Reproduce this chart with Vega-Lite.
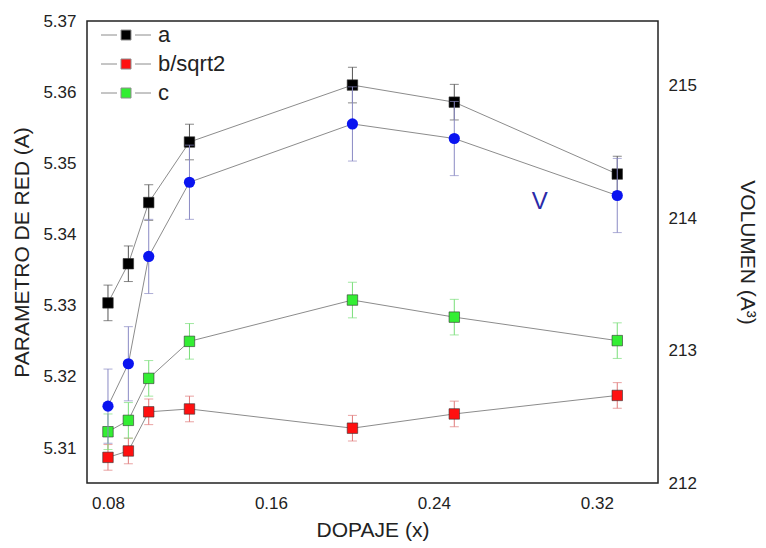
{
  "$schema": "https://vega.github.io/schema/vega-lite/v6.json",
  "width": 571,
  "height": 462,
  "autosize": {"type": "none"},
  "padding": {"left": 87, "top": 21, "right": 108, "bottom": 65},
  "background": "white",
  "config": {
    "view": {"stroke": "#222", "strokeWidth": 1.5},
    "font": "Liberation Sans",
    "axis": {
      "domain": false,
      "grid": false,
      "labelFont": "Liberation Sans",
      "labelFontSize": 17,
      "labelColor": "#222",
      "titleFont": "Liberation Sans",
      "titleFontSize": 21,
      "titleFontWeight": "normal",
      "titleColor": "#222",
      "labelFlush": false
    }
  },
  "datasets": {
    "lat": [
      {"x": 0.08, "series": "a", "value": 5.3304, "err": 0.0025},
      {"x": 0.09, "series": "a", "value": 5.3359, "err": 0.0025},
      {"x": 0.10, "series": "a", "value": 5.3445, "err": 0.0025},
      {"x": 0.12, "series": "a", "value": 5.3530, "err": 0.0025},
      {"x": 0.20, "series": "a", "value": 5.3610, "err": 0.0025},
      {"x": 0.25, "series": "a", "value": 5.3586, "err": 0.0025},
      {"x": 0.33, "series": "a", "value": 5.3485, "err": 0.0025},
      {"x": 0.08, "series": "b/sqrt2", "value": 5.3087, "err": 0.0018},
      {"x": 0.09, "series": "b/sqrt2", "value": 5.3096, "err": 0.0018},
      {"x": 0.10, "series": "b/sqrt2", "value": 5.3151, "err": 0.0018},
      {"x": 0.12, "series": "b/sqrt2", "value": 5.3155, "err": 0.0018},
      {"x": 0.20, "series": "b/sqrt2", "value": 5.3128, "err": 0.0018},
      {"x": 0.25, "series": "b/sqrt2", "value": 5.3148, "err": 0.0018},
      {"x": 0.33, "series": "b/sqrt2", "value": 5.3174, "err": 0.0018},
      {"x": 0.08, "series": "c", "value": 5.3123, "err": 0.0025},
      {"x": 0.09, "series": "c", "value": 5.3139, "err": 0.0025},
      {"x": 0.10, "series": "c", "value": 5.3198, "err": 0.0025},
      {"x": 0.12, "series": "c", "value": 5.3250, "err": 0.0025},
      {"x": 0.20, "series": "c", "value": 5.3308, "err": 0.0025},
      {"x": 0.25, "series": "c", "value": 5.3284, "err": 0.0025},
      {"x": 0.33, "series": "c", "value": 5.3251, "err": 0.0025}
    ],
    "vol": [
      {"x": 0.08, "V": 212.58, "err": 0.28},
      {"x": 0.09, "V": 212.90, "err": 0.28},
      {"x": 0.10, "V": 213.71, "err": 0.28},
      {"x": 0.12, "V": 214.27, "err": 0.28},
      {"x": 0.20, "V": 214.71, "err": 0.28},
      {"x": 0.25, "V": 214.60, "err": 0.28},
      {"x": 0.33, "V": 214.17, "err": 0.28}
    ],
    "note": [
      {"x": 0.292, "V": 214.12, "label": "V"}
    ],
    "xMajor": [{"t": 0.08}, {"t": 0.16}, {"t": 0.24}, {"t": 0.32}],
    "xMinor": [{"t": 0.096}, {"t": 0.112}, {"t": 0.128}, {"t": 0.144}, {"t": 0.176}, {"t": 0.192}, {"t": 0.208}, {"t": 0.224}, {"t": 0.256}, {"t": 0.272}, {"t": 0.288}, {"t": 0.304}, {"t": 0.336}],
    "yMajor": [{"t": 5.31}, {"t": 5.32}, {"t": 5.33}, {"t": 5.34}, {"t": 5.35}, {"t": 5.36}],
    "yMinor": [{"t": 5.306}, {"t": 5.308}, {"t": 5.312}, {"t": 5.314}, {"t": 5.316}, {"t": 5.318}, {"t": 5.322}, {"t": 5.324}, {"t": 5.326}, {"t": 5.328}, {"t": 5.332}, {"t": 5.334}, {"t": 5.336}, {"t": 5.338}, {"t": 5.342}, {"t": 5.344}, {"t": 5.346}, {"t": 5.348}, {"t": 5.352}, {"t": 5.354}, {"t": 5.356}, {"t": 5.358}, {"t": 5.362}, {"t": 5.364}, {"t": 5.366}, {"t": 5.368}],
    "vMajor": [{"t": 213}, {"t": 214}, {"t": 215}],
    "vMinor": [{"t": 212.5}, {"t": 213.5}, {"t": 214.5}]
  },
  "layer": [
    {
      "encoding": {
        "x": {
          "field": "x",
          "type": "quantitative",
          "scale": {"domain": [0.0697, 0.35], "nice": false, "zero": false},
          "axis": {
            "title": "DOPAJE (x)",
            "orient": "bottom",
            "values": [0.08, 0.16, 0.24, 0.32],
            "format": ".2f",
            "ticks": false,
            "labelPadding": 12,
            "titlePadding": 8
          }
        },
        "y": {
          "field": "value",
          "type": "quantitative",
          "scale": {"domain": [5.3051, 5.37], "nice": false, "zero": false},
          "axis": {
            "title": "PARAMETRO DE RED (A)",
            "orient": "left",
            "values": [5.31, 5.32, 5.33, 5.34, 5.35, 5.36, 5.37],
            "format": ".2f",
            "ticks": false,
            "labelPadding": 11,
            "titlePadding": 10
          }
        }
      },
      "layer": [
        {
          "data": {"name": "xMajor"},
          "mark": {"type": "rule", "color": "#222", "strokeWidth": 1.4},
          "encoding": {"x": {"field": "t", "type": "quantitative"}, "y": {"datum": 5.3051, "type": "quantitative"}, "y2": {"datum": 5.3061}}
        },
        {
          "data": {"name": "xMinor"},
          "mark": {"type": "rule", "color": "#222", "strokeWidth": 1.4},
          "encoding": {"x": {"field": "t", "type": "quantitative"}, "y": {"datum": 5.3051, "type": "quantitative"}, "y2": {"datum": 5.30566}}
        },
        {
          "data": {"name": "yMajor"},
          "mark": {"type": "rule", "color": "#222", "strokeWidth": 1.4},
          "encoding": {"y": {"field": "t", "type": "quantitative"}, "x": {"datum": 0.0697, "type": "quantitative"}, "x2": {"datum": 0.0731}}
        },
        {
          "data": {"name": "yMinor"},
          "mark": {"type": "rule", "color": "#222", "strokeWidth": 1.4},
          "encoding": {"y": {"field": "t", "type": "quantitative"}, "x": {"datum": 0.0697, "type": "quantitative"}, "x2": {"datum": 0.0717}}
        },
        {
          "data": {"name": "lat"},
          "mark": {"type": "line", "color": "#8c8c8c", "strokeWidth": 1},
          "encoding": {"detail": {"field": "series"}}
        },
        {
          "data": {"name": "lat"},
          "transform": [{"filter": "datum.series == 'a'"}],
          "mark": {"type": "errorbar", "ticks": {"size": 9}, "color": "#555555", "thickness": 1},
          "encoding": {"yError": {"field": "err"}}
        },
        {
          "data": {"name": "lat"},
          "transform": [{"filter": "datum.series == 'b/sqrt2'"}],
          "mark": {"type": "errorbar", "ticks": {"size": 9}, "color": "#e07a7a", "thickness": 1},
          "encoding": {"yError": {"field": "err"}}
        },
        {
          "data": {"name": "lat"},
          "transform": [{"filter": "datum.series == 'c'"}],
          "mark": {"type": "errorbar", "ticks": {"size": 9}, "color": "#7ade7a", "thickness": 1},
          "encoding": {"yError": {"field": "err"}}
        },
        {
          "data": {"name": "lat"},
          "mark": {"type": "point", "shape": "square", "filled": true, "size": 110, "opacity": 1, "stroke": "#333", "strokeWidth": 0.6},
          "encoding": {
            "color": {
              "field": "series",
              "type": "nominal",
              "scale": {"domain": ["a", "b/sqrt2", "c"], "range": ["#000000", "#ff1010", "#33ee33"]},
              "legend": {
                "title": null,
                "orient": "none",
                "legendX": 28,
                "legendY": 3,
                "padding": 0,
                "symbolType": "M-2.5,0H-0.9M0.9,0H2.5M-0.5,-0.5H0.5V0.5H-0.5Z",
                "symbolSize": 400,
                "symbolStrokeColor": "#8c8c8c",
                "symbolStrokeWidth": 1,
                "symbolOpacity": 1,
                "labelFontSize": 22,
                "labelFont": "Liberation Sans",
                "labelColor": "#222",
                "labelOffset": 21,
                "rowPadding": 7
              }
            }
          }
        }
      ]
    },
    {
      "encoding": {
        "x": {"field": "x", "type": "quantitative", "axis": null},
        "y": {
          "field": "V",
          "type": "quantitative",
          "scale": {"domain": [212, 215.487], "nice": false, "zero": false},
          "axis": {
            "title": "VOLUMEN (A³)",
            "orient": "right",
            "values": [212, 213, 214, 215],
            "format": "d",
            "ticks": false,
            "labelPadding": 10,
            "titlePadding": 40
          }
        }
      },
      "layer": [
        {
          "data": {"name": "vMajor"},
          "mark": {"type": "rule", "color": "#222", "strokeWidth": 1.4},
          "encoding": {"y": {"field": "t", "type": "quantitative"}, "x": {"datum": 0.35, "type": "quantitative"}, "x2": {"datum": 0.3466}}
        },
        {
          "data": {"name": "vMinor"},
          "mark": {"type": "rule", "color": "#222", "strokeWidth": 1.4},
          "encoding": {"y": {"field": "t", "type": "quantitative"}, "x": {"datum": 0.35, "type": "quantitative"}, "x2": {"datum": 0.348}}
        },
        {
          "data": {"name": "vol"},
          "mark": {"type": "line", "color": "#8c8c8c", "strokeWidth": 1}
        },
        {
          "data": {"name": "vol"},
          "mark": {"type": "errorbar", "ticks": {"size": 9}, "color": "#8a8ac4", "thickness": 1},
          "encoding": {"yError": {"field": "err"}}
        },
        {
          "data": {"name": "vol"},
          "mark": {"type": "point", "shape": "circle", "filled": true, "size": 125, "color": "#0a14f0", "opacity": 1}
        },
        {
          "data": {"name": "note"},
          "mark": {"type": "text", "fontSize": 24, "color": "#2a2aa8", "font": "Liberation Sans"},
          "encoding": {"text": {"field": "label"}}
        }
      ]
    }
  ],
  "resolve": {"scale": {"y": "independent"}, "axis": {"x": "independent", "y": "independent"}}
}
